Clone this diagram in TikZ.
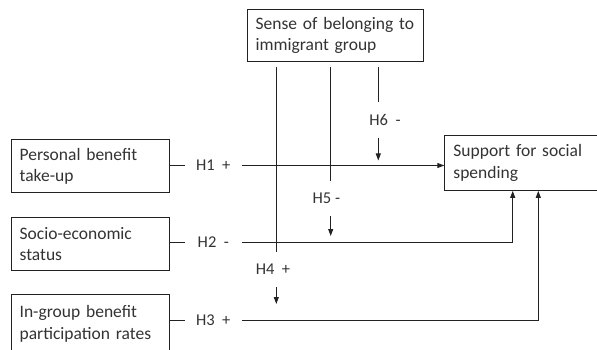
\documentclass[tikz,border=0pt]{standalone}
\usepackage{fontspec}
\setmainfont{Carlito}
\usetikzlibrary{arrows.meta}
\definecolor{ink}{HTML}{333333}
\definecolor{linec}{HTML}{222222}
\begin{document}
\begin{tikzpicture}[x=1pt,y=-1pt,
  box/.style={draw=linec, line width=0.9pt, anchor=north west, inner xsep=8.5pt, inner ysep=0pt,
    align=left, font=\fontsize{17.5}{21.5}\selectfont, text=ink},
  hlab/.style={font=\fontsize{16.5}{18}\selectfont, text=ink, inner sep=0pt, minimum width=56.7pt},
  vlab/.style={font=\fontsize{16.5}{18}\selectfont, text=ink, inner sep=0pt, minimum height=35pt},
  conn/.style={draw=linec, line width=0.9pt},
  arr/.style={conn, -{Triangle[length=7pt,width=5pt]}}]
\useasboundingbox (0,0) rectangle (597,350);

% boxes
\node[box, text width=159pt, minimum width=176pt, minimum height=52pt] (top) at (246.7,9) {Sense of belonging to\\immigrant group};
\node[box, text width=141pt, minimum width=158pt, minimum height=53pt] (b1) at (10.7,139.4) {Personal benefit\\take-up};
\node[box, text width=141pt, minimum width=158pt, minimum height=53.3pt] (b2) at (10.7,216.7) {Socio-economic\\status};
\node[box, text width=141pt, minimum width=158pt, minimum height=58pt] (b3) at (10.7,294.3) {In-group benefit\\participation rates};
\node[box, text width=135pt, minimum width=152.4pt, minimum height=55pt] (out) at (444.3,135) {Support for social\\spending};

% horizontal labels
\node[hlab] (h1) at (213.3,165.5) {H1~~+};
\node[hlab] (h2) at (213.3,242.3) {H2~~-};
\node[hlab] (h3) at (213.3,320.5) {H3~~+};

% vertical labels
\node[vlab] (h6) at (385,119.9) {H6~~-};
\node[vlab] (h5) at (326.4,198.7) {H5~-};
\node[vlab] (h4) at (273,269.7) {H4~~+};

% coordinates for moderator lines
\coordinate (s4) at (276.3,66.7);
\coordinate (s5) at (330.7,66.7);
\coordinate (s6) at (378.3,66.7);
\coordinate (e6) at (378.3,160.5);
\coordinate (e5) at (330.7,236);
\coordinate (e4) at (276.3,304);
\coordinate (c2) at (512.7,242.3);
\coordinate (c3) at (538.3,320.5);

% main effects
\draw[conn] (b1.east |- h1) -- (h1.west);
\draw[arr] (h1.east) -- (out.west |- h1);
\draw[conn] (b2.east |- h2) -- (h2.west);
\draw[arr] (h2.east) -- (c2) -- (out.south -| c2);
\draw[conn] (b3.east |- h3) -- (h3.west);
\draw[arr] (h3.east) -- (c3) -- (out.south -| c3);

% moderations
\draw[conn] (s6) -- (h6.north -| s6);
\draw[arr] (h6.south -| s6) -- (e6);
\draw[conn] (s5) -- (h5.north -| s5);
\draw[arr] (h5.south -| s5) -- (e5);
\draw[conn] (s4) -- (h4.north -| s4);
\draw[arr] (h4.south -| s4) -- (e4);
\end{tikzpicture}
\end{document}
